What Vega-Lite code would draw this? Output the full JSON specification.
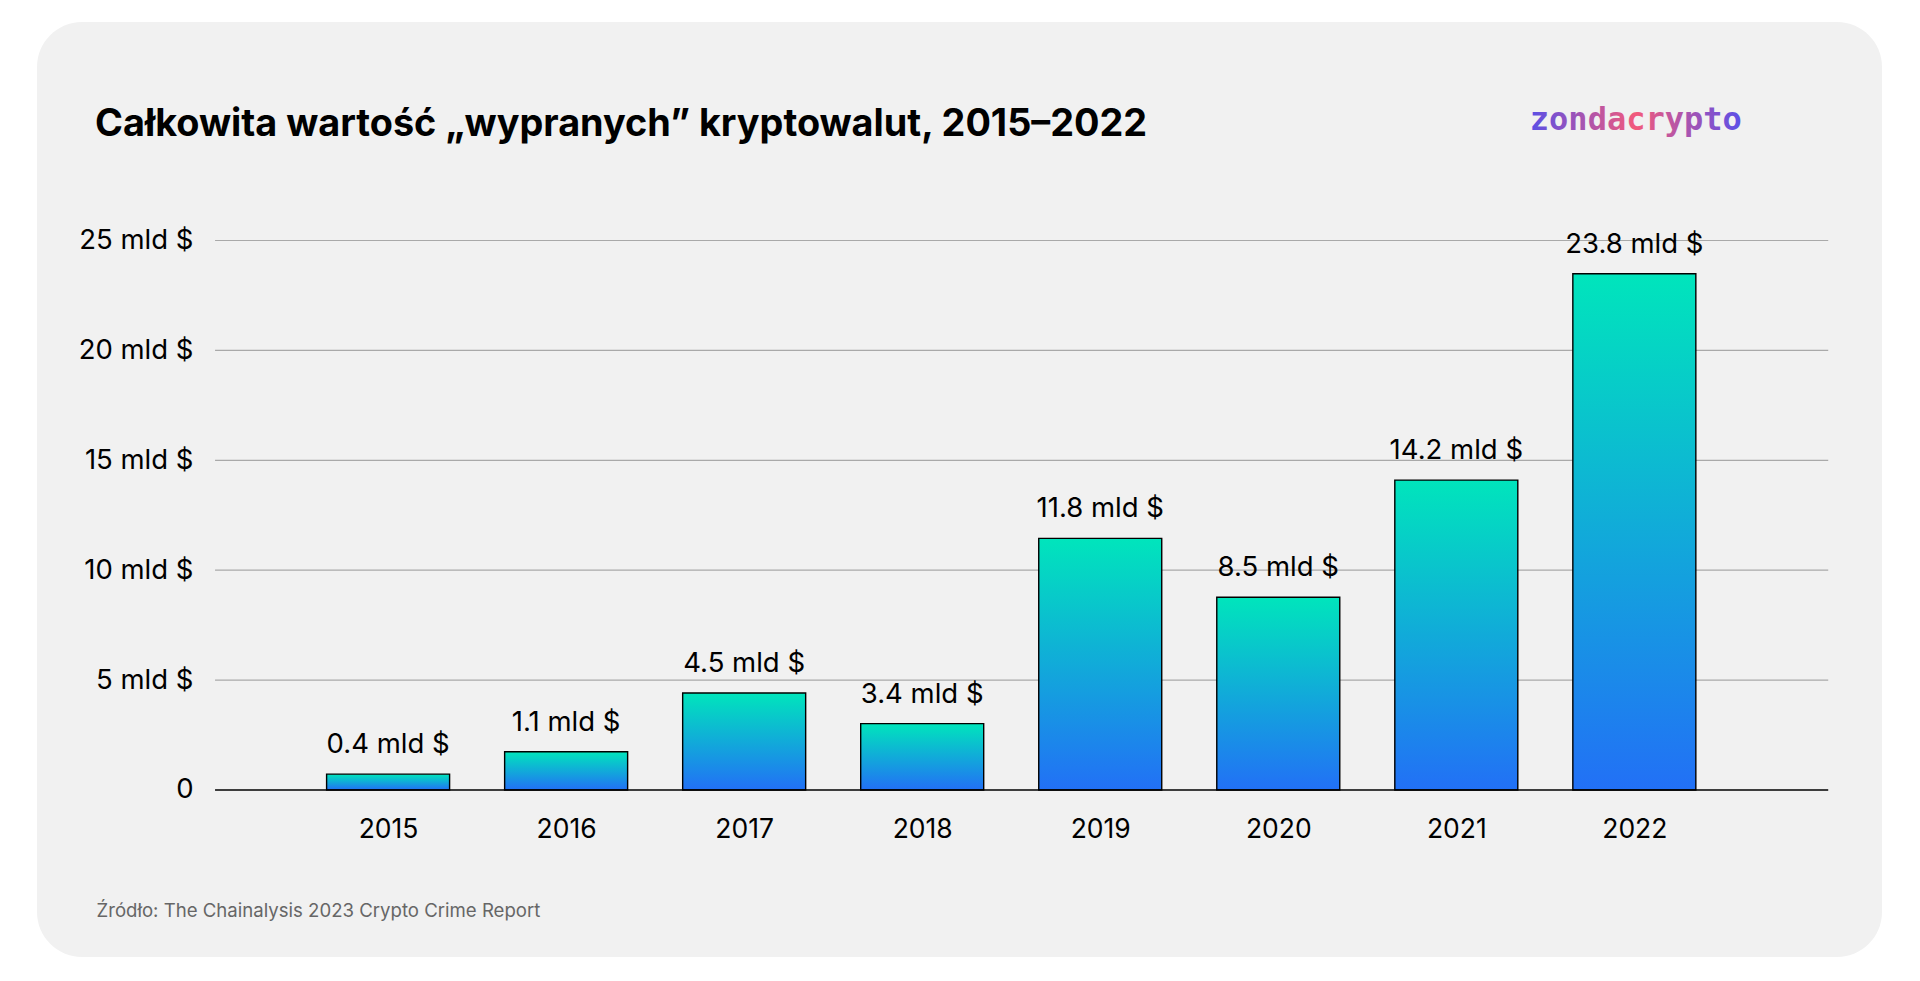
{
  "$schema": "https://vega.github.io/schema/vega-lite/v6.json",
  "width": 1845,
  "height": 935,
  "autosize": {"type": "none"},
  "padding": {"left": 37, "top": 22, "right": 38, "bottom": 24},
  "background": "white",
  "title": {
    "text": "Całkowita wartość „wypranych” kryptowalut, 2015–2022",
    "anchor": "start",
    "frame": "group",
    "offset": -122,
    "dx": 58,
    "font": "Inter",
    "fontSize": 37.8,
    "fontWeight": 700,
    "color": "#000000"
  },
  "datasets": {
    "bars": [
      {"year": 2015, "value": 0.72, "label": "0.4 mld $"},
      {"year": 2016, "value": 1.74, "label": "1.1 mld $"},
      {"year": 2017, "value": 4.41, "label": "4.5 mld $"},
      {"year": 2018, "value": 3.02, "label": "3.4 mld $"},
      {"year": 2019, "value": 11.45, "label": "11.8 mld $"},
      {"year": 2020, "value": 8.77, "label": "8.5 mld $"},
      {"year": 2021, "value": 14.1, "label": "14.2 mld $"},
      {"year": 2022, "value": 23.49, "label": "23.8 mld $"}
    ],
    "grid": [{"v": 5}, {"v": 10}, {"v": 15}, {"v": 20}, {"v": 25}],
    "base": [{"v": 0}],
    "logo": [{"t": "zondacrypto"}]
  },
  "layer": [
    {
      "data": {"name": "grid"},
      "mark": {"type": "rule", "color": "#a9a9a9", "strokeWidth": 1.2},
      "encoding": {
        "y": {"field": "v", "type": "quantitative", "title": null,
              "scale": {"domain": [-7.598, 34.941], "nice": false, "zero": false}},
        "x": {"datum": 2014.028, "type": "quantitative",
              "scale": {"domain": [2013.056, 2023.363], "nice": false, "zero": false}},
        "x2": {"datum": 2023.089}
      }
    },
    {
      "data": {"name": "bars"},
      "mark": {
        "type": "bar",
        "width": 123,
        "stroke": "#000000",
        "strokeWidth": 1.4,
        "color": {
          "gradient": "linear",
          "x1": 0, "y1": 0, "x2": 0, "y2": 1,
          "stops": [
            {"offset": 0, "color": "#00e5bc"},
            {"offset": 1, "color": "#2270f6"}
          ]
        }
      },
      "encoding": {
        "x": {
          "field": "year", "type": "quantitative",
          "title": "Źródło: The Chainalysis 2023 Crypto Crime Report",
          "axis": {
            "values": [2015, 2016, 2017, 2018, 2019, 2020, 2021, 2022],
            "format": "d",
            "title": "Źródło: The Chainalysis 2023 Crypto Crime Report"
          }
        },
        "y": {
          "field": "value", "type": "quantitative", "title": null,
          "axis": {
            "values": [0, 5, 10, 15, 20, 25],
            "labelExpr": "datum.value == 0 ? '0' : datum.value + ' mld $'"
          }
        },
        "y2": {"datum": 0}
      }
    },
    {
      "data": {"name": "bars"},
      "mark": {"type": "text", "font": "Inter", "fontSize": 27.5, "color": "#000000",
               "baseline": "alphabetic", "align": "center", "dy": -21},
      "encoding": {
        "x": {"field": "year", "type": "quantitative",
              "title": "Źródło: The Chainalysis 2023 Crypto Crime Report"},
        "y": {"field": "value", "type": "quantitative", "title": null},
        "text": {"field": "label"}
      }
    },
    {
      "data": {"name": "base"},
      "mark": {"type": "rule", "color": "#000000", "strokeWidth": 1.5},
      "encoding": {
        "y": {"field": "v", "type": "quantitative", "title": null},
        "x": {"datum": 2014.028, "type": "quantitative"},
        "x2": {"datum": 2023.089}
      }
    },
    {
      "data": {"name": "logo"},
      "mark": {
        "type": "text", "font": "DejaVu Sans Mono", "fontSize": 32, "fontWeight": 700,
        "align": "left", "baseline": "alphabetic",
        "color": {
          "gradient": "linear",
          "x1": 0, "y1": 0, "x2": 1, "y2": 0,
          "stops": [
            {"offset": 0, "color": "#5a4fe6"},
            {"offset": 0.5, "color": "#f25a7c"},
            {"offset": 1, "color": "#5b4fe8"}
          ]
        }
      },
      "encoding": {
        "x": {"datum": 2021.413, "type": "quantitative"},
        "y": {"datum": 30.03, "type": "quantitative"},
        "text": {"field": "t"}
      }
    }
  ],
  "config": {
    "view": {"fill": "#f1f1f1", "stroke": null, "cornerRadius": 45},
    "font": "Inter",
    "axisX": {
      "orient": "bottom",
      "offset": -167,
      "domain": false, "ticks": false, "grid": false,
      "labelPadding": 26,
      "labelFont": "Inter", "labelFontSize": 26.5, "labelColor": "#000000",
      "labelFlush": false, "labelOverlap": false,
      "titleFont": "Inter", "titleFontSize": 18.6, "titleFontWeight": 400,
      "titleColor": "#666666",
      "titleAlign": "left",
      "titleAnchor": "start",
      "titleBaseline": "alphabetic",
      "titleX": 59,
      "titleY": 126
    },
    "axisY": {
      "orient": "left",
      "offset": -156,
      "domain": false, "ticks": false, "grid": false,
      "labelPadding": 0,
      "labelFont": "Inter", "labelFontSize": 27.5, "labelColor": "#000000",
      "labelFlush": false, "labelOverlap": false
    }
  }
}
